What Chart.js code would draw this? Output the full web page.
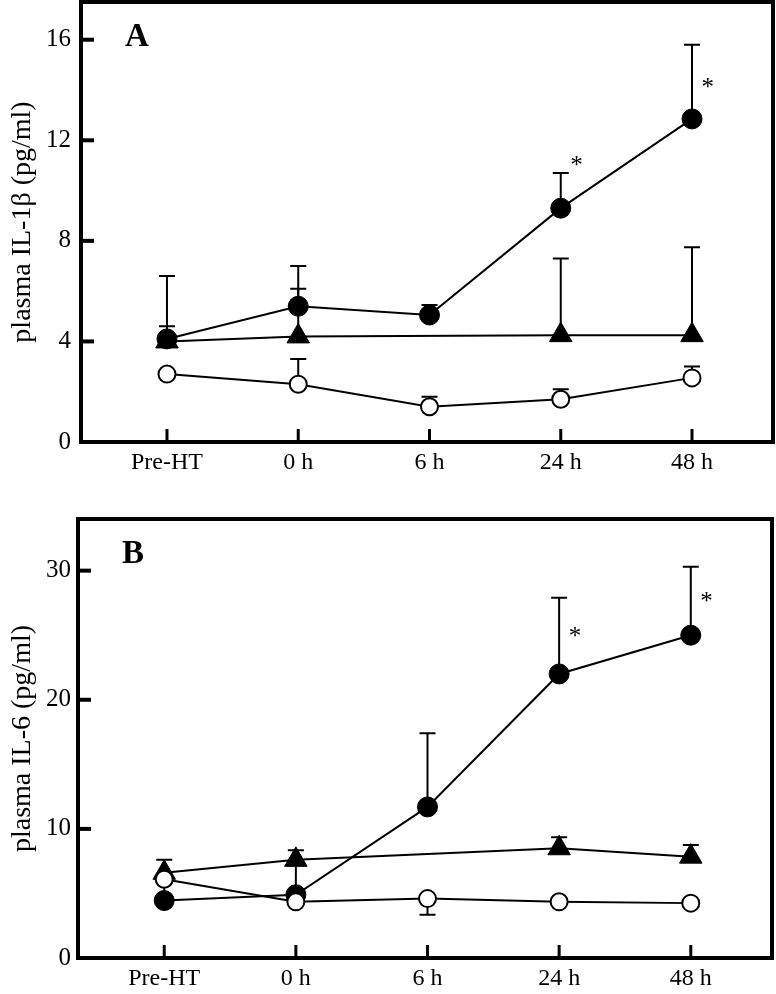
<!DOCTYPE html>
<html>
<head>
<meta charset="utf-8">
<script src="https://cdn.jsdelivr.net/npm/chart.js@4/dist/chart.umd.min.js"></script>
<style>
  body { margin: 0; background: #fff; }
  .panel { position: absolute; left: 0; width: 776px; }
  #wrapA { top: 0; height: 485px; }
  #wrapB { top: 485px; height: 509px; }
</style>
</head>
<body>
<div class="panel" id="wrapA"><canvas id="chartA" width="776" height="485"></canvas></div>
<div class="panel" id="wrapB"><canvas id="chartB" width="776" height="509"></canvas></div>
<script>
const timeLabels = ['Pre-HT', '0 h', '6 h', '24 h', '48 h'];

// panel A - IL-1beta
const yTicksA = [0, 4, 8, 12, 16];
const openA = [2.7, 2.3, 1.4, 1.7, 2.55];
const openErrA = [null, 3.3, 1.8, 2.1, 3.0];
const triA = [4.0, 4.2, null, 4.25, 4.25];
const triErrA = [6.6, 7.0, null, 7.3, 7.75];
const filledA = [4.1, 5.4, 5.05, 9.3, 12.85];
const filledErrA = [4.6, 6.1, 5.45, 10.7, 15.8];
const starA = [null, null, null, 11.1, 14.2];

// panel B - IL-6
const yTicksB = [0, 10, 20, 30];
const openB = [6.1, 4.35, 4.6, 4.35, 4.25];
const openErrB = [4.6, null, 3.35, null, null];
const triB = [6.6, 7.6, null, 8.5, 7.85];
const triErrB = [7.6, null, null, 9.35, 8.75];
const filledB = [4.45, 4.9, 11.7, 22.0, 25.0];
const filledErrB = [null, 8.35, 17.4, 27.9, 30.3];
const starB = [null, null, null, 25.1, 27.8];

const serif = '"Liberation Serif", "Times New Roman", serif';

function toXY(arr) {
  return arr.map((v, i) => ({x: i, y: v}));
}

function noPad(s) {
  s.paddingTop = 0; s.paddingBottom = 0; s.paddingLeft = 0; s.paddingRight = 0;
}

// error bars, frame, inward ticks, asterisks and panel letter
const panelPlugin = {
  id: 'panel',
  beforeDatasetsDraw(chart, args, opts) {
    const xs = chart.scales.x, ys = chart.scales.y, ctx = chart.ctx;
    ctx.save();
    ctx.strokeStyle = '#000';
    ctx.lineWidth = 2;
    opts.errors.forEach(e => {
      e.tips.forEach((t, i) => {
        if (t == null || e.vals[i] == null) return;
        const px = xs.getPixelForValue(i);
        const p0 = ys.getPixelForValue(e.vals[i]);
        const p1 = ys.getPixelForValue(t);
        ctx.beginPath();
        ctx.moveTo(px, p0);
        ctx.lineTo(px, p1);
        ctx.moveTo(px - 8, p1);
        ctx.lineTo(px + 8, p1);
        ctx.stroke();
      });
    });
    ctx.restore();
  },
  afterDraw(chart, args, opts) {
    const xs = chart.scales.x, ys = chart.scales.y, ctx = chart.ctx;
    const {left, right, top, bottom} = chart.chartArea;
    ctx.save();
    ctx.strokeStyle = '#000';
    ctx.lineWidth = 4;
    ctx.strokeRect(left, top, right - left, bottom - top);
    // inward tick marks
    ys.ticks.forEach(t => {
      if (t.value === 0) return;
      const py = ys.getPixelForValue(t.value);
      ctx.beginPath();
      ctx.moveTo(left, py);
      ctx.lineTo(left + 13, py);
      ctx.stroke();
    });
    ctx.lineWidth = 3;
    xs.ticks.forEach(t => {
      const px = xs.getPixelForValue(t.value);
      ctx.beginPath();
      ctx.moveTo(px, bottom);
      ctx.lineTo(px, bottom - 13);
      ctx.stroke();
    });
    // asterisks
    ctx.fillStyle = '#000';
    ctx.font = '25px ' + serif;
    ctx.textAlign = 'center';
    ctx.textBaseline = 'alphabetic';
    opts.stars.forEach((v, i) => {
      if (v == null) return;
      ctx.fillText('*', xs.getPixelForValue(i + 0.12), ys.getPixelForValue(v) + 10);
    });
    ctx.font = 'bold 33px ' + serif;
    ctx.textAlign = 'left';
    ctx.textBaseline = 'middle';
    ctx.fillText(opts.letter, left + 44, top + 35);
    ctx.restore();
  }
};

function makeChart(id, cfg) {
  const datasets = [
    {data: toXY(cfg.open), pointStyle: 'circle', pointRadius: 8.5, pointBorderWidth: 2,
     pointBackgroundColor: '#fff', pointBorderColor: '#000', borderColor: '#000', borderWidth: 2},
    {data: toXY(cfg.tri), pointStyle: 'triangle', pointRadius: 13, pointBorderWidth: 1,
     pointBackgroundColor: '#000', pointBorderColor: '#000', borderColor: '#000', borderWidth: 2, spanGaps: true},
    {data: toXY(cfg.filled), pointStyle: 'circle', pointRadius: 10, pointBorderWidth: 1,
     pointBackgroundColor: '#000', pointBorderColor: '#000', borderColor: '#000', borderWidth: 2}
  ];
  return new Chart(document.getElementById(id), {
    type: 'line',
    data: {datasets: datasets},
    plugins: [panelPlugin],
    options: {
      responsive: false,
      animation: false,
      layout: {autoPadding: false, padding: {top: cfg.padTop, right: cfg.padRight, left: 0, bottom: 0}},
      plugins: {
        legend: {display: false},
        tooltip: {enabled: false},
        panel: {
          letter: cfg.letter,
          stars: cfg.stars,
          errors: [
            {vals: cfg.open, tips: cfg.openErr},
            {vals: cfg.tri, tips: cfg.triErr},
            {vals: cfg.filled, tips: cfg.filledErr}
          ]
        }
      },
      scales: {
        x: {
          type: 'linear',
          min: -0.655,
          max: 4.617,
          grid: {display: false, drawTicks: false},
          border: {display: false},
          afterBuildTicks: s => { s.ticks = timeLabels.map((l, i) => ({value: i})); },
          afterFit: s => { s.height = cfg.xHeight; noPad(s); },
          ticks: {
            autoSkip: false, maxRotation: 0, padding: 6, color: '#000',
            font: {family: serif, size: 24},
            callback: v => timeLabels[v]
          }
        },
        y: {
          min: 0,
          max: cfg.yMax,
          grid: {display: false, drawTicks: false},
          border: {display: false},
          afterBuildTicks: s => { s.ticks = cfg.yTicks.map(v => ({value: v})); },
          afterFit: s => { s.width = cfg.yWidth; noPad(s); },
          ticks: {padding: cfg.yPad, color: '#000', font: {family: serif, size: 25}},
          title: {
            display: true, text: cfg.yTitle, color: '#000', padding: {top: 6, bottom: 0},
            font: {family: serif, size: 28}
          }
        }
      }
    }
  });
}

makeChart('chartA', {
  letter: 'A', yTitle: 'plasma IL-1\u03b2 (pg/ml)', yMax: 17.5, yTicks: yTicksA,
  open: openA, openErr: openErrA, tri: triA, triErr: triErrA,
  filled: filledA, filledErr: filledErrA, stars: starA,
  padTop: 2, padRight: 3, xHeight: 43, yWidth: 81, yPad: 10
});

makeChart('chartB', {
  letter: 'B', yTitle: 'plasma IL-6 (pg/ml)', yMax: 34, yTicks: yTicksB,
  open: openB, openErr: openErrB, tri: triB, triErr: triErrB,
  filled: filledB, filledErr: filledErrB, stars: starB,
  padTop: 34, padRight: 4, xHeight: 36, yWidth: 78, yPad: 7
});
</script>
</body>
</html>
